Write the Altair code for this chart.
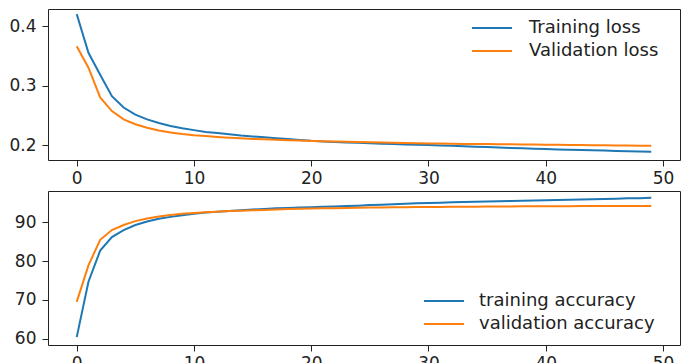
import altair as alt
import pandas as pd

epochs = list(range(50))

train_loss = [0.420, 0.355, 0.318, 0.282, 0.263, 0.251, 0.243, 0.237, 0.232, 0.228,
              0.225, 0.222, 0.220, 0.218, 0.216, 0.2145, 0.213, 0.2115, 0.210, 0.2085,
              0.2070, 0.2061, 0.2052, 0.2044, 0.2036, 0.2029, 0.2022, 0.2016, 0.2010, 0.2005,
              0.2000, 0.1993, 0.1986, 0.1979, 0.1972, 0.1965, 0.1958, 0.1951, 0.1944, 0.1937,
              0.1931, 0.1926, 0.1921, 0.1916, 0.1911, 0.1906, 0.1901, 0.1896, 0.1892, 0.1888]
val_loss = [0.366, 0.330, 0.280, 0.257, 0.243, 0.235, 0.229, 0.2245, 0.221, 0.2185,
            0.2165, 0.215, 0.2135, 0.2122, 0.2112, 0.2103, 0.2095, 0.2088, 0.2082, 0.2075,
            0.2068, 0.2063, 0.2058, 0.2054, 0.2050, 0.2046, 0.2042, 0.2038, 0.2034, 0.2030,
            0.2027, 0.2024, 0.2021, 0.2019, 0.2017, 0.2015, 0.2013, 0.2011, 0.2009, 0.2007,
            0.2005, 0.2003, 0.2001, 0.1999, 0.1997, 0.1995, 0.1993, 0.1991, 0.1989, 0.1987]

train_acc = [60.4, 74.7, 82.7, 86.2, 88.0, 89.3, 90.2, 90.9, 91.4, 91.8,
             92.2, 92.5, 92.7, 92.9, 93.1, 93.3, 93.45, 93.6, 93.7, 93.8,
             93.9, 94.0, 94.1, 94.2, 94.3, 94.45, 94.55, 94.65, 94.8, 94.9,
             95.0, 95.07, 95.14, 95.21, 95.28, 95.35, 95.42, 95.49, 95.56, 95.63,
             95.7, 95.77, 95.84, 95.9, 95.97, 96.04, 96.1, 96.17, 96.23, 96.3]
val_acc = [69.5, 78.9, 85.5, 88.0, 89.3, 90.3, 91.0, 91.5, 91.9, 92.2,
           92.4, 92.6, 92.75, 92.9, 93.0, 93.1, 93.2, 93.3, 93.4, 93.5,
           93.55, 93.6, 93.65, 93.7, 93.75, 93.8, 93.83, 93.86, 93.89, 93.92,
           93.95, 93.97, 93.99, 94.01, 94.03, 94.05, 94.07, 94.09, 94.11, 94.13,
           94.15, 94.16, 94.17, 94.18, 94.19, 94.2, 94.2, 94.2, 94.2, 94.2]

loss_names = ["Training loss", "Validation loss"]
acc_names = ["training accuracy", "validation accuracy"]
colors = ["#1f77b4", "#ff7f0e"]
x_ticks = [0, 10, 20, 30, 40, 50]

loss_df = pd.DataFrame({
    "epoch": epochs * 2,
    "value": train_loss + val_loss,
    "series": [loss_names[0]] * 50 + [loss_names[1]] * 50,
})
acc_df = pd.DataFrame({
    "epoch": epochs * 2,
    "value": train_acc + val_acc,
    "series": [acc_names[0]] * 50 + [acc_names[1]] * 50,
})

FONT = "DejaVu Sans"
TICK_FS = 17
LEG_FS = 18
INK = "#222222"
LINE_SYMBOL = "M-2,0H2"


def xaxis():
    return alt.X("epoch:Q",
                 scale=alt.Scale(domain=[-2.45, 51.45], nice=False, zero=False),
                 axis=alt.Axis(values=x_ticks, title=None, grid=False, tickSize=6,
                               labelPadding=4, domain=False, labelFontSize=TICK_FS,
                               labelFont=FONT, labelColor=INK, tickColor=INK))


def legend(x, y, offset):
    return alt.Legend(title=None, orient="none", legendX=x, legendY=y,
                      symbolType=LINE_SYMBOL, symbolSize=400,
                      symbolStrokeWidth=2, labelFontSize=LEG_FS,
                      labelFont=FONT, labelColor=INK, labelLimit=400,
                      labelOffset=offset, padding=0, rowPadding=3)


top = alt.Chart(loss_df).mark_line(strokeWidth=2).encode(
    x=xaxis(),
    y=alt.Y("value:Q",
            scale=alt.Scale(domain=[0.1748, 0.4286], nice=False, zero=False),
            axis=alt.Axis(values=[0.2, 0.3, 0.4], format=".1f", title=None, grid=False,
                          tickSize=6, labelPadding=6, domain=False, minExtent=39,
                          labelFontSize=TICK_FS, labelFont=FONT, labelColor=INK,
                          tickColor=INK)),
    color=alt.Color("series:N",
                    scale=alt.Scale(domain=loss_names, range=colors),
                    legend=legend(433, 8, 26)),
).properties(width=632, height=151)

bottom = alt.Chart(acc_df).mark_line(strokeWidth=2).encode(
    x=xaxis(),
    y=alt.Y("value:Q",
            scale=alt.Scale(domain=[58.38, 98.07], nice=False, zero=False),
            axis=alt.Axis(values=[60, 70, 80, 90], title=None, grid=False,
                          tickSize=6, labelPadding=6, domain=False, minExtent=39,
                          labelFontSize=TICK_FS, labelFont=FONT, labelColor=INK,
                          tickColor=INK)),
    color=alt.Color("series:N",
                    scale=alt.Scale(domain=acc_names, range=colors),
                    legend=legend(385, 99, 24)),
).properties(width=632, height=154)

chart = alt.vconcat(top, bottom, spacing=3).resolve_scale(
    color="independent"
).resolve_legend(color="independent").configure(
    padding=0
).configure_view(
    stroke=INK, strokeWidth=1
)

chart.save("out.html", embed_options={"renderer": "svg", "actions": False})
